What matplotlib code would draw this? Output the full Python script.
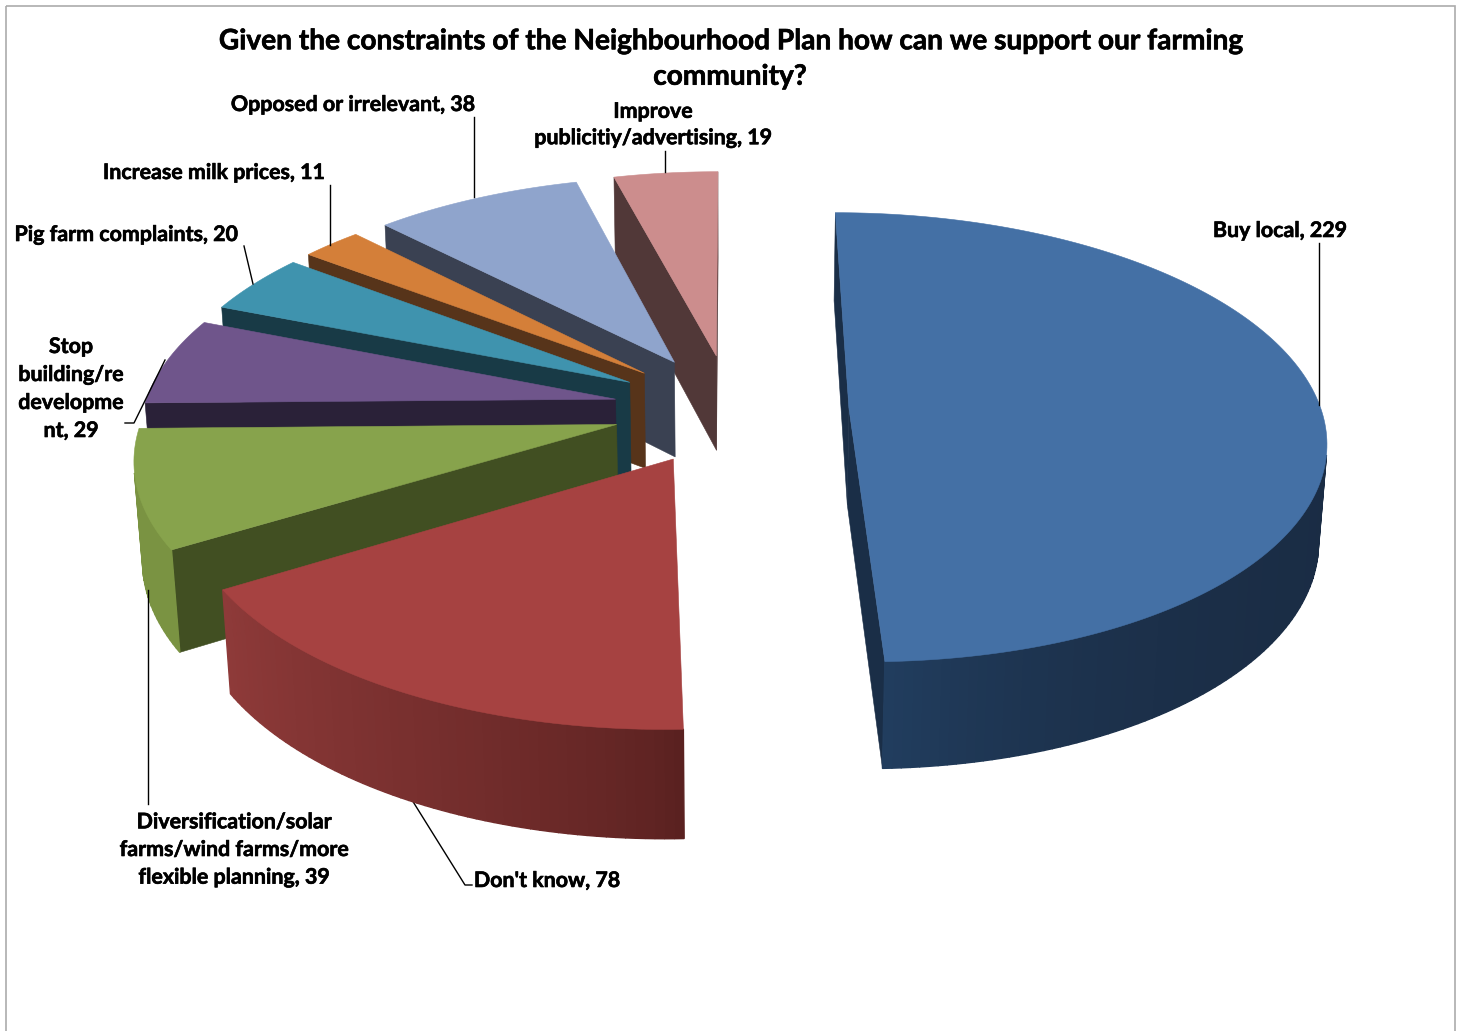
import numpy as np
import matplotlib
matplotlib.use('Agg')
import matplotlib.pyplot as plt
import matplotlib.patheffects as pe
from matplotlib.patches import Polygon, Rectangle
from matplotlib.colors import to_rgb

categories = ['Buy local', "Don't know", 'Diversification/solar\nfarms/wind farms/more\nflexible planning',
              'Stop\nbuilding/re\ndevelopme\nnt', 'Pig farm complaints', 'Increase milk prices',
              'Opposed or irrelevant', 'Improve\npublicitiy/advertising']
values = [229, 78, 39, 29, 20, 11, 38, 19]

top_colors = ['#4470A5', '#A64241', '#87A34C', '#6F558B', '#3F93AE', '#D47F39', '#8FA4CC', '#CC8D8D']
side_colors = ['#1A2E47', '#5A2120', '#414F22', '#2A2138', '#183A46', '#57341A', '#3A4152', '#513838']
# rim colour at the start and the end of each slice's arc
rim_start = ['#1A2C44', '#5A2120', '#7A9342', '#2A2138', '#183A46', '#57341A', '#3A4152', '#513838']
rim_end = ['#213D5E', '#8E3A39', '#7A9342', '#2A2138', '#183A46', '#57341A', '#3A4152', '#513838']
rim_power = [8, 0.75, 1, 1, 1, 1, 1, 1]

title = 'Given the constraints of the Neighbourhood Plan how can we support our farming\ncommunity?'

# label centre x, y, line spacing and leader line for each slice
label_xy = [(1280, 231), (547, 881), (234, 850), (71, 389), (126, 235), (214, 173), (353, 105), (653, 125)]
label_spacing = [1.4, 1.4, 1.48, 1.5, 1.4, 1.4, 1.4, 1.4]
leaders = [[(1319, 243), (1319, 405)],
           [(412, 800), (465, 885), (472, 885)],
           [(148, 590), (148, 804)],
           [(125, 423), (134, 423), (165, 360)],
           [(244, 246), (253, 284)],
           [(330, 185), (330, 245)],
           [(474, 117), (474, 197)],
           [(665, 151), (665, 172)]]

FONT = 'Lato'
CX, CY = 731, 409
SCALE_X, SCALE_Y, DEPTH = 472, 221, 98
PERSP, PERSP_Z = 0.13, 0.014
EXPLODE = 0.25
START = 0.0


def project(x, y, z=0.0):
    # simple perspective: far points (y > 0) shrink, z runs downward
    w = 1 + PERSP * y + PERSP_Z * z
    return CX + SCALE_X * x / w, CY + (-SCALE_Y * y + DEPTH * z) / w


def shoelace(pts):
    p = np.array(pts)
    q = np.roll(p, -1, axis=0)
    return np.sum(p[:, 0] * q[:, 1] - q[:, 0] * p[:, 1])


def wall(ax, a, b, color, zorder, lw=0.4):
    quad = [project(*a), project(*b), project(*b, 1.0), project(*a, 1.0)]
    if shoelace(quad) < 0:
        ax.add_patch(Polygon(quad, closed=True, fc=color, ec=color, lw=lw, zorder=zorder))


fig = plt.figure(figsize=(14.62, 10.31), dpi=100, facecolor='white')
ax = fig.add_axes([0, 0, 1, 1])
ax.set_xlim(0, 1462)
ax.set_ylim(1031, 0)
ax.axis('off')

ax.add_patch(Rectangle((6, 6), 1449, 1060, fc='none', ec='#ABABAB', lw=1.2, zorder=0))

angles = START + np.cumsum([0] + values) / sum(values) * 360
n = len(values)

for i in range(n):
    t0, t1 = angles[i], angles[i + 1]
    mid = np.radians((t0 + t1) / 2)
    ox, oy = EXPLODE * np.sin(mid), EXPLODE * np.cos(mid)
    th = np.radians(np.linspace(t0, t1, max(int(t1 - t0), 6) + 1))
    rim = np.column_stack([ox + np.sin(th), oy + np.cos(th)])
    # the slices nearer the viewer are painted over the ones behind them
    z = 1 + (n - i) * 4

    wall(ax, (ox, oy), rim[0], side_colors[i], z)
    wall(ax, rim[-1], (ox, oy), side_colors[i], z)
    c0, c1 = np.array(to_rgb(rim_start[i])), np.array(to_rgb(rim_end[i]))
    for k in range(len(rim) - 1):
        f = (k / (len(rim) - 2)) ** rim_power[i]
        wall(ax, rim[k], rim[k + 1], tuple(c0 + (c1 - c0) * f), z + 1, lw=1.0)

    outline = [project(ox, oy)] + [project(*p) for p in rim]
    ax.add_patch(Polygon(outline, closed=True, fc=top_colors[i], ec=top_colors[i], lw=0.4, zorder=z + 2))

stroke = [pe.withStroke(linewidth=0.45, foreground='black')]
ax.text(730, 59, title, ha='center', va='center', fontsize=20.2, fontweight='bold', family=FONT,
        color='black', linespacing=1.45, zorder=60, path_effects=stroke)

for i, name in enumerate(categories):
    ax.text(label_xy[i][0], label_xy[i][1], f'{name}, {values[i]}', ha='center', va='center',
            fontsize=15.4, fontweight='bold', family=FONT, color='black', linespacing=label_spacing[i],
            zorder=60, path_effects=stroke)
    xs, ys = zip(*leaders[i])
    ax.plot(xs, ys, color='black', lw=1.0, zorder=50 if i != 1 else 0.5)

fig.savefig('out.png', dpi=100, facecolor='white')
